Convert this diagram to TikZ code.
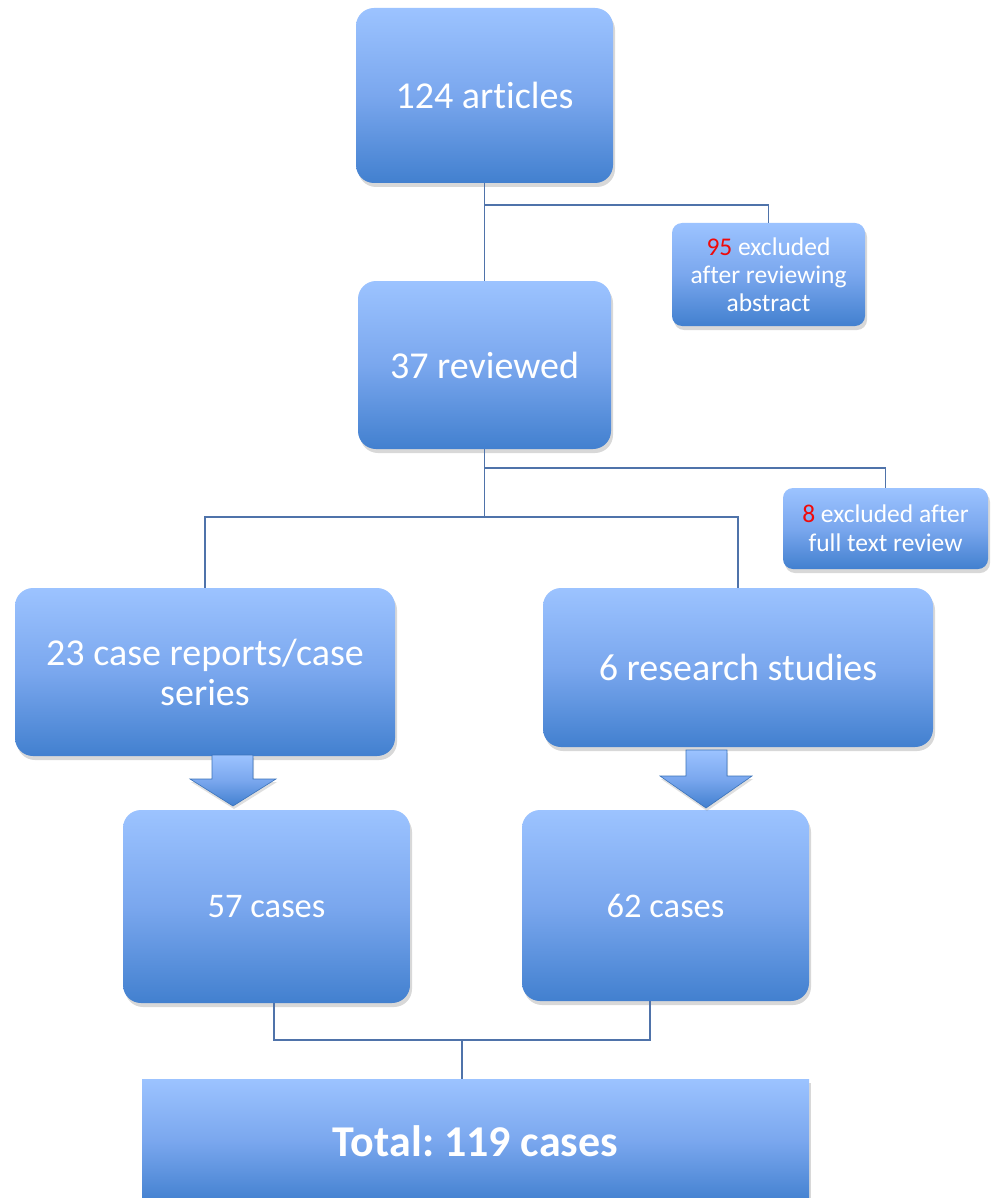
\documentclass[tikz,border=0pt]{standalone}
\usepackage{fontspec}
\setmainfont[RawFeature={-liga;-dlig}]{Carlito}
\usetikzlibrary{shadows,calc}
\definecolor{topblue}{RGB}{156,195,255}
\definecolor{midblue}{RGB}{122,167,238}
\definecolor{botblue}{RGB}{66,128,207}
\definecolor{linecol}{RGB}{79,115,170}
\definecolor{exred}{RGB}{240,10,10}
\frenchspacing
\begin{document}
\begin{tikzpicture}[x=1pt,y=-1pt,
  box/.style={rounded corners=#1, top color=topblue, bottom color=botblue, middle color=midblue,
    draw=none, text=white, align=center, inner sep=0pt,
    drop shadow={opacity=0.3, shadow xshift=2pt, shadow yshift=-4pt}},
  box/.default=18pt,
  conn/.style={draw=linecol, line width=1.4pt},
  barrow/.style={top color=topblue, bottom color=botblue, middle color=midblue, draw=botblue!90!black, line width=0.6pt,
    drop shadow={opacity=0.25, shadow xshift=1pt, shadow yshift=-3pt}}]
\clip (0,0) rectangle (992,1198);
\useasboundingbox (0,0) rectangle (992,1198);
\fill[white] (0,0) rectangle (992,1198);

\node[box, minimum width=257pt, minimum height=175pt, font=\fontsize{38}{44}\selectfont] (n124) at (484.5,95.5) {124 articles};
\node[box=10pt, minimum width=193pt, minimum height=103pt, font=\fontsize{25.5}{28}\selectfont] (n95) at (768.5,274.5) {\textcolor{exred}{95} excluded\\after reviewing\\abstract};
\node[box, minimum width=253pt, minimum height=168pt, font=\fontsize{38}{44}\selectfont] (n37) at (484.5,365) {37 reviewed};
\node[box=10pt, minimum width=205pt, minimum height=81pt, font=\fontsize{25.5}{29}\selectfont] (n8) at (885.5,528.5) {\textcolor{exred}{8} excluded after\\full text review};
\node[box, minimum width=380pt, minimum height=168pt, font=\fontsize{38}{40}\selectfont] (n23) at (205,672) {23 case reports/case\\series};
\node[box, minimum width=390pt, minimum height=159pt, font=\fontsize{38}{44}\selectfont] (n6) at (738,667.5) {6 research studies};
\node[box, minimum width=287pt, minimum height=193pt, font=\fontsize{34.5}{40}\selectfont] (n57) at (266.5,906.5) {57 cases};
\node[box, minimum width=287pt, minimum height=191pt, font=\fontsize{34.5}{40}\selectfont] (n62) at (665.5,905.5) {62 cases};
\node[box=0pt, minimum width=667pt, minimum height=124pt, font=\fontsize{44}{50}\bfseries\selectfont] (total) at (475.5,1141) {Total: 119 cases};

\coordinate (j1) at (484.5,205);
\coordinate (j2) at (484.5,468);
\coordinate (j3) at (484.5,517);
\coordinate (j4) at (462,1040);

\draw[conn] (n124.south) -- (n37.north);
\draw[conn] (j1) -| (n95.north);
\draw[conn] (n37.south) -- (j3);
\draw[conn] (j2) -| (n8.north);
\draw[conn] (n23.north) |- (j3) -| (n6.north);
\draw[conn] ([xshift=7.5pt]n57.south) |- (j4) -| ([xshift=-15.5pt]n62.south);
\draw[conn] (j4) -- ([xshift=-13.5pt]total.north);

\path[barrow] (212,755) -- (253,755) -- (253,779) -- (276,779) -- (233,806) -- (190,779) -- (212,779) -- cycle;
\path[barrow] (686,750) -- (727,750) -- (727,776) -- (752,776) -- (706,808) -- (660,776) -- (686,776) -- cycle;
\end{tikzpicture}
\end{document}
